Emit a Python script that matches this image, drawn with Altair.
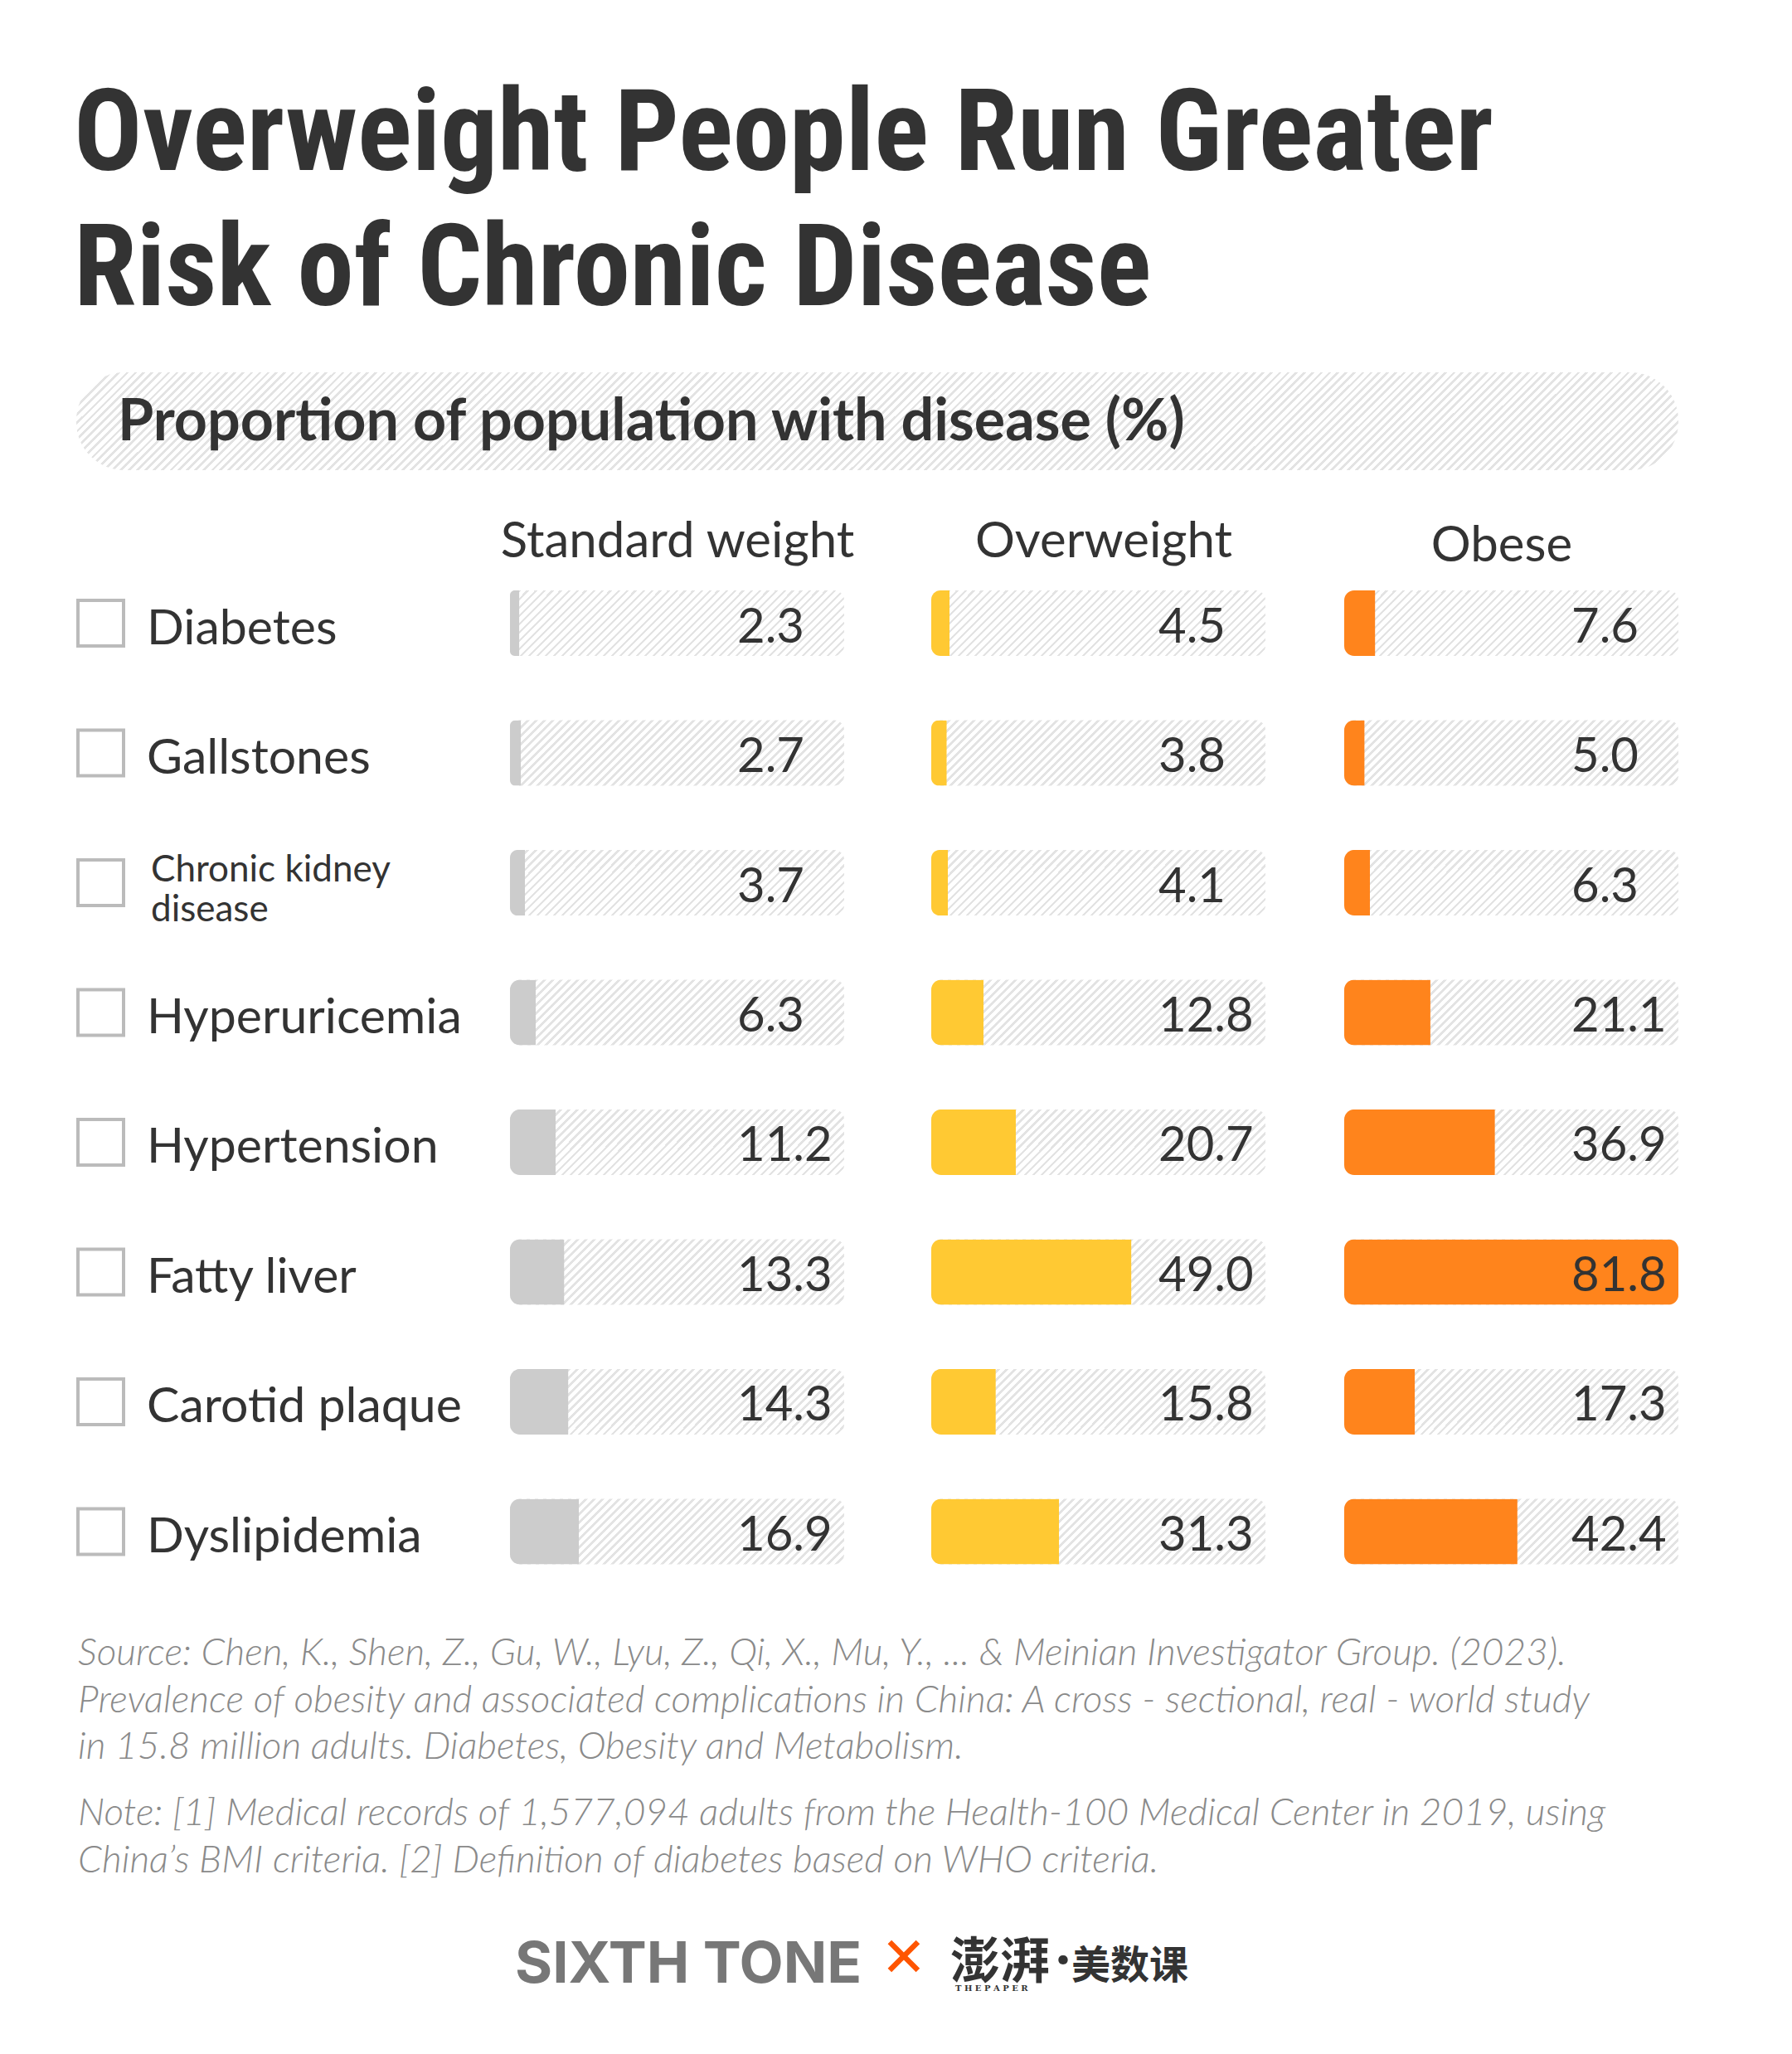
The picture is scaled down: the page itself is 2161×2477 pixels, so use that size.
import altair as alt
import pandas as pd

# ---------------- data ----------------
categories = ["Diabetes", "Gallstones", "Chronic kidney disease", "Hyperuricemia",
              "Hypertension", "Fatty liver", "Carotid plaque", "Dyslipidemia"]
groups = ["Standard weight", "Overweight", "Obese"]
standard = [2.3, 2.7, 3.7, 6.3, 11.2, 13.3, 14.3, 16.9]
overweight = [4.5, 3.8, 4.1, 12.8, 20.7, 49.0, 15.8, 31.3]
obese = [7.6, 5.0, 6.3, 21.1, 36.9, 81.8, 17.3, 42.4]
series = {"Standard weight": standard, "Overweight": overweight, "Obese": obese}

title_lines = ["Overweight People Run Greater", "Risk of Chronic Disease"]
subtitle = "Proportion of population with disease (%)"
source_lines = [
    "Source: Chen, K., Shen, Z., Gu, W., Lyu, Z., Qi, X., Mu, Y., ... & Meinian Investigator Group. (2023).",
    "Prevalence of obesity and associated complications in China: A cross \u2010  sectional, real \u2010  world study",
    "in 15.8 million adults. Diabetes, Obesity and Metabolism.",
]
note_lines = [
    "Note: [1] Medical records of 1,577,094 adults from the Health-100 Medical Center in 2019, using",
    "China\u2019s BMI criteria. [2] Definition of diabetes based on WHO criteria.",
]
brand_left = "SIXTH TONE"
brand_cross = "\u2715"
brand_cn_1 = "澎湃"
brand_dot = "·"
brand_cn_2 = "美数课"
brand_small = "T H E   P A P E R"

# ---------------- layout / style ----------------
W, H = 2161, 2477
X_MAX = 81.8
track_px = {"Standard weight": (615, 1018), "Overweight": (1123, 1526), "Obese": (1621, 2024)}
header_px = {"Standard weight": (817, 672), "Overweight": (1331, 672), "Obese": (1811, 677)}
colors = {"Standard weight": "#cccccc", "Overweight": "#ffc933", "Obese": "#ff841c"}
LABEL_AT = 274 / 403 * X_MAX
TEXT = "#333333"
FONT = "Lato"
TITLE_FONT = "Roboto Condensed, Liberation Sans Narrow, Arial Narrow, DejaVu Sans Condensed, sans-serif"


def hatch(w, h, period=10.0, frac=0.36, color="#e3e3e3", bg="#ffffff"):
    k = h / w
    s = (1 + k) / (1 + k * k)
    n = w * (1 + k) / period
    dt = 1.0 / n
    stops = []
    i = 0
    while i * dt < 1:
        a = i * dt
        b = min(a + dt * frac, 1.0)
        c = min(a + dt, 1.0)
        stops += [
            {"offset": round(a, 5), "color": color},
            {"offset": round(b, 5), "color": color},
            {"offset": round(b, 5), "color": bg},
            {"offset": round(c, 5), "color": bg},
        ]
        i += 1
    return {"gradient": "linear", "x1": 0, "y1": 0, "x2": round(s, 5), "y2": round(s * k, 5), "stops": stops}


df = pd.DataFrame([{"disease": d, "group": g, "value": v}
                   for g in groups for d, v in zip(categories, series[g])])
rows = pd.DataFrame({"disease": categories})
one = alt.InlineData(values=[{"k": 0}])

yscale = alt.Scale(domain=categories, range=[712, 1886.5], paddingInner=0.495, paddingOuter=0)
Y = alt.Y("disease:N", scale=yscale, axis=None)


def label(text, x, y, **kw):
    return alt.Chart(one).mark_text(**kw).encode(x=alt.value(x), y=alt.value(y), text=alt.value(text))


layers = []

# title
layers.append(label(title_lines, 89, 205, align="left", baseline="alphabetic", font=TITLE_FONT,
                    fontWeight="bold", fontSize=137, lineHeight=163, color=TEXT))

# subtitle pill
layers.append(
    alt.Chart(one).mark_rect(cornerRadius=58, fill=hatch(1932, 118, period=10.0))
    .encode(x=alt.value(92), x2=alt.value(2024), y=alt.value(449), y2=alt.value(567))
)
layers.append(label(subtitle, 142, 531, align="left", baseline="alphabetic", font=FONT,
                    fontWeight="bold", fontSize=70, color=TEXT))

# checkboxes and row labels
layers.append(
    alt.Chart(rows).mark_square(filled=False, size=55 * 55, strokeWidth=4, stroke="#bbbbbb", opacity=1)
    .encode(x=alt.value(121.5), y=Y)
)
layers.append(
    alt.Chart(rows).transform_filter("length(datum.disease) <= 15")
    .mark_text(align="left", baseline="alphabetic", dy=25, font=FONT, fontSize=59, color=TEXT)
    .encode(x=alt.value(177), y=Y, text="disease:N")
)
layers.append(
    alt.Chart(rows).transform_filter("length(datum.disease) > 15")
    .transform_calculate(lbl="replace(datum.disease, 'kidney ', 'kidney\\n')")
    .mark_text(align="left", baseline="alphabetic", dy=-2, font=FONT, fontSize=44, lineHeight=48,
               lineBreak="\n", color=TEXT)
    .encode(x=alt.value(182), y=Y, text="lbl:N")
)

# columns
for g in groups:
    x0, x1 = track_px[g]
    xs = alt.Scale(domain=[0, X_MAX], range=[x0, x1], nice=False)
    hx, hy = header_px[g]
    layers.append(label(g, hx, hy, align="center", baseline="alphabetic", font=FONT, fontSize=60, color=TEXT))
    layers.append(
        alt.Chart(rows).mark_bar(cornerRadius=12, fill=hatch(x1 - x0, 79))
        .encode(x=alt.X(datum=0, type="quantitative", scale=xs, axis=None),
                x2=alt.X2(datum=X_MAX), y=Y)
    )
    layers.append(
        alt.Chart(df).transform_filter(alt.datum.group == g)
        .transform_filter(f"datum.value < {X_MAX}")
        .mark_bar(cornerRadiusTopLeft=12, cornerRadiusBottomLeft=12, color=colors[g])
        .encode(x=alt.X("value:Q", scale=xs, axis=None), y=Y)
    )
    layers.append(
        alt.Chart(df).transform_filter(alt.datum.group == g)
        .transform_filter(f"datum.value >= {X_MAX}")
        .mark_bar(cornerRadius=12, color=colors[g])
        .encode(x=alt.X("value:Q", scale=xs, axis=None), y=Y)
    )
    layers.append(
        alt.Chart(df).transform_filter(alt.datum.group == g)
        .mark_text(align="left", baseline="alphabetic", dy=23, font=FONT, fontSize=58, color=TEXT)
        .encode(x=alt.X(datum=LABEL_AT, type="quantitative", scale=xs, axis=None), y=Y,
                text=alt.Text("value:Q", format=".1f"))
    )

# footer notes
note_style = dict(align="left", baseline="alphabetic", font=FONT, fontWeight=300, fontStyle="italic",
                  fontSize=46, lineHeight=56.5, color="#8a8a8a")
layers.append(label(source_lines, 94, 2008, **note_style))
layers.append(label(note_lines, 94, 2201, **note_style))

# brand line
layers.append(label(brand_left, 621, 2391, align="left", baseline="alphabetic", font="Inter",
                    fontWeight="bold", fontSize=69, color="#777777"))
layers.append(label(brand_cross, 1090, 2363, align="center", baseline="middle", font="DejaVu Sans",
                    fontWeight="bold", fontSize=66, color="#ff5500"))
layers.append(label(brand_cn_1, 1146, 2386, align="left", baseline="alphabetic", font="Noto Sans CJK SC",
                    fontWeight="bold", fontSize=60, color=TEXT))
layers.append(label(brand_dot, 1282, 2363, align="center", baseline="middle", font=FONT,
                    fontWeight="bold", fontSize=60, color=TEXT))
layers.append(label(brand_cn_2, 1292, 2386, align="left", baseline="alphabetic", font="Noto Sans CJK SC",
                    fontWeight="bold", fontSize=47, color=TEXT))
layers.append(label(brand_small, 1152, 2393, align="left", baseline="top", font="DejaVu Serif",
                    fontWeight="bold", fontSize=10, color=TEXT))

chart = (
    alt.layer(*layers)
    .resolve_scale(x="independent")
    .properties(width=W, height=H, padding=0, autosize=alt.AutoSizeParams(type="none"),
                background="#ffffff")
    .configure_view(stroke=None)
)

chart.save("out.html", embed_options={"renderer": "svg", "actions": False})
